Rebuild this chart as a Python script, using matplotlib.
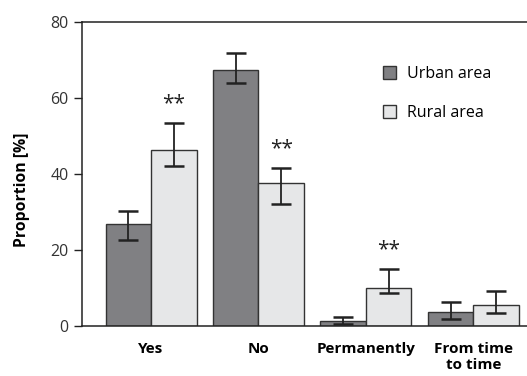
import numpy as np
import matplotlib.pyplot as plt

plt.rcParams['font.family'] = ['Open Sans', 'DejaVu Sans']

categories = ['Yes', 'No', 'Permanently', 'From time\nto time']
urban = [26.8, 67.5, 1.1, 3.7]
urban_lo = [22.5, 64.0, 0.4, 1.8]
urban_hi = [30.3, 72.0, 2.3, 6.3]
rural = [46.4, 37.6, 9.8, 5.4]
rural_lo = [42.0, 32.1, 8.5, 3.4]
rural_hi = [53.4, 41.5, 15.0, 9.2]
stars = ['**', '**', '**', '']

urban_c = '#808083'
rural_c = '#e6e7e8'
edge_c = '#333333'

fig = plt.figure(figsize=(5.27, 3.76), dpi=100)
ax = fig.add_axes([0.1556, 0.134, 0.8444, 0.807])

x = np.arange(len(categories))
w = 0.424
urban = np.array(urban)
rural = np.array(rural)
u_err = [urban - np.array(urban_lo), np.array(urban_hi) - urban]
r_err = [rural - np.array(rural_lo), np.array(rural_hi) - rural]

ekw = dict(ecolor='#222222', elinewidth=1.3, capsize=7, capthick=1.8)
ax.bar(x - w / 2, urban, w, color=urban_c, edgecolor=edge_c, linewidth=1.0,
       yerr=u_err, error_kw=ekw, label='Urban area')
ax.bar(x + w / 2, rural, w, color=rural_c, edgecolor=edge_c, linewidth=1.0,
       yerr=r_err, error_kw=ekw, label='Rural area')

# gwiazdki istotnosci
for xi, hi, s in zip(x, rural_hi, stars):
    if s:
        ax.text(xi + w / 2, hi + 2.3, s, ha='center', va='bottom', fontsize=15,
                color='#222222')

ax.set_xlim(-0.643, 3.50)
ax.set_ylim(0, 80)
ax.set_yticks([0, 20, 40, 60, 80])
ax.set_xticks(x)
ax.set_xticklabels(categories, fontweight='bold', fontsize=11)
ax.tick_params(axis='x', length=0, pad=12)
ax.tick_params(axis='y', length=6, width=1.0, labelsize=11.5, colors='#222222',
               labelcolor='#333333')
ax.set_ylabel('Proportion [%]', fontweight='bold', fontsize=11.3)
ax.yaxis.set_label_coords(-0.117, 0.447)

for side in ['left', 'top', 'bottom']:
    ax.spines[side].set_color('#222222')
    ax.spines[side].set_linewidth(1.1)
ax.spines['right'].set_visible(False)

ax.legend(loc='upper left', bbox_to_anchor=(0.644, 0.903), frameon=False,
          fontsize=11.5, handlelength=0.8, handleheight=0.8, labelspacing=1.45,
          handletextpad=0.7)

fig.savefig('out.png', dpi=100)
